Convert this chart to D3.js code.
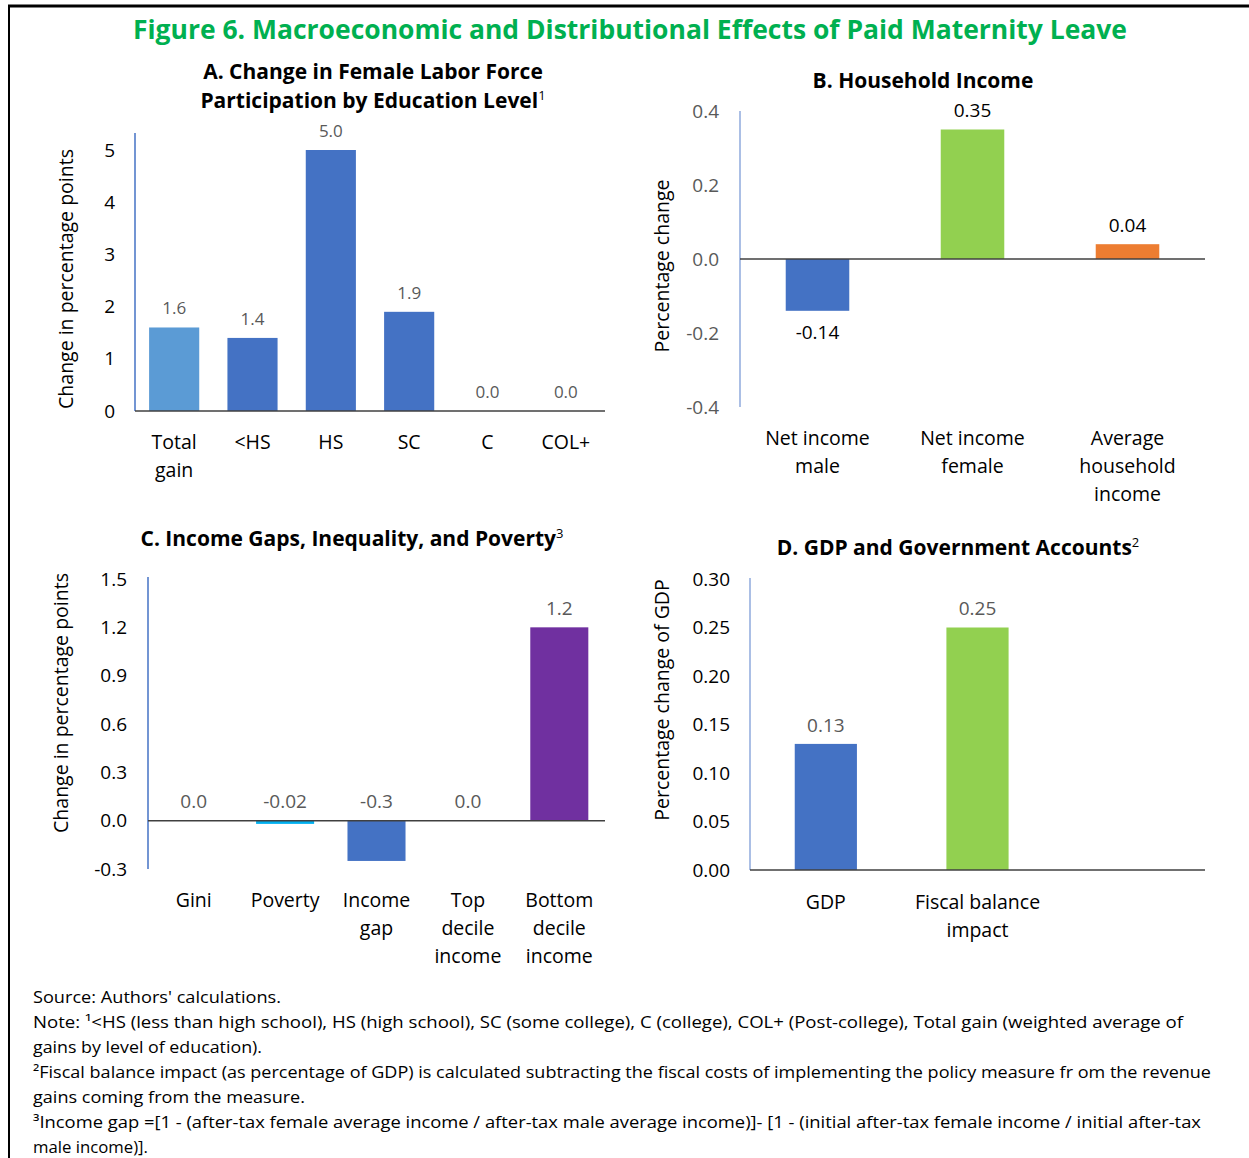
<!DOCTYPE html>
<html>
<head>
<meta charset="utf-8">
<script src="https://cdn.jsdelivr.net/npm/d3@7"></script>
<style>
  body { margin: 0; background: #fff; }
  svg text { font-family: "Open Sans", "Noto Sans", sans-serif; }
</style>
</head>
<body>
<svg width="1249" height="1158"></svg>
<script>
// --- data ---
var titleMain = "Figure 6. Macroeconomic and Distributional Effects of Paid Maternity Leave";

var catsA = ["Total\ngain", "<HS", "HS", "SC", "C", "COL+"];
var valsA = [1.6, 1.4, 5.0, 1.9, 0.0, 0.0];
var labelsA = ["1.6", "1.4", "5.0", "1.9", "0.0", "0.0"];
var colorsA = ["#5B9BD5", "#4472C4", "#4472C4", "#4472C4", "#4472C4", "#4472C4"];
var ticksA = [0, 1, 2, 3, 4, 5];

var catsB = ["Net income\nmale", "Net income\nfemale", "Average\nhousehold\nincome"];
var valsB = [-0.14, 0.35, 0.04];
var labelsB = ["-0.14", "0.35", "0.04"];
var colorsB = ["#4472C4", "#92D050", "#ED7D31"];
var ticksB = [-0.4, -0.2, 0.0, 0.2, 0.4];

var catsC = ["Gini", "Poverty", "Income\ngap", "Top\ndecile\nincome", "Bottom\ndecile\nincome"];
var valsC = [0.0, -0.02, -0.25, 0.0, 1.2];
var labelsC = ["0.0", "-0.02", "-0.3", "0.0", "1.2"];
var colorsC = ["#4472C4", "#00B0F0", "#4472C4", "#4472C4", "#7030A0"];
var ticksC = [-0.3, 0.0, 0.3, 0.6, 0.9, 1.2, 1.5];

var catsD = ["GDP", "Fiscal balance\nimpact", ""];
var valsD = [0.13, 0.25, null];
var labelsD = ["0.13", "0.25", ""];
var colorsD = ["#4472C4", "#92D050", "#fff"];
var ticksD = [0.00, 0.05, 0.10, 0.15, 0.20, 0.25, 0.30];

var notes = [
  "Source: Authors' calculations.",
  "Note: \u00B9<HS (less than high school), HS (high school), SC (some college), C (college), COL+ (Post-college), Total gain (weighted average of",
  "gains by level of education).",
  "\u00B2Fiscal balance impact (as percentage of GDP) is calculated subtracting the fiscal costs of implementing the policy measure fr om the revenue",
  "gains coming from the measure.",
  "\u00B3Income gap =[1 - (after-tax female average income / after-tax male average income)]- [1 - (initial after-tax female income / initial after-tax",
  "male income)]."
];
var noteWidths = [248, 1150, 229, 1178, 272, 1168, 115];

var svg = d3.select("svg");

// frame (top + left rule)
svg.append("line").attr("x1", 8).attr("x2", 1249).attr("y1", 6).attr("y2", 6)
    .attr("stroke", "#000").attr("stroke-width", 3);
svg.append("line").attr("x1", 9).attr("x2", 9).attr("y1", 5).attr("y2", 1158)
    .attr("stroke", "#000").attr("stroke-width", 2);

svg.append("text")
    .attr("x", 630).attr("y", 39)
    .attr("text-anchor", "middle")
    .attr("font-size", 27).attr("font-weight", 700)
    .attr("fill", "#00B050")
    .attr("textLength", 994).attr("lengthAdjust", "spacingAndGlyphs")
    .text(titleMain);

function panelTitle(lines, cx, y0, sup) {
    lines.forEach(function (l, i) {
        var t = svg.append("text")
            .attr("x", cx).attr("y", y0 + i * 29)
            .attr("text-anchor", "middle")
            .attr("font-size", 21).attr("font-weight", 700)
            .attr("fill", "#000")
            .text(l);
        if (sup && i === lines.length - 1) {
            t.append("tspan").attr("dy", -8).attr("font-size", 13)
                .attr("font-weight", 400).text(sup);
        }
    });
}

// Excel style numbers: plain hyphen for negatives
function fmtHyphen(spec) {
    var f = d3.format(spec);
    return function (d) { return f(d).replace("\u2212", "-"); };
}

function drawPanel(p) {
    var g = svg.append("g");

    var x = d3.scaleBand()
        .domain(p.cats)
        .range([p.x0, p.x1])
        .paddingInner(p.pad)
        .paddingOuter(p.pad / 2);

    var y = d3.scaleLinear()
        .domain([p.ticks[0], p.ticks[p.ticks.length - 1]])
        .range([p.yBottom, p.yTop]);

    // y tick labels
    var yAxis = d3.axisLeft(y)
        .tickValues(p.ticks)
        .tickSize(0)
        .tickPadding(p.tickPad)
        .tickFormat(fmtHyphen(p.fmt));

    var ax = g.append("g")
        .attr("transform", "translate(" + p.x0 + ",0)")
        .call(yAxis);
    ax.select(".domain").remove();
    ax.selectAll("text")
        .attr("font-size", 19)
        .attr("font-family", "Open Sans, sans-serif")
        .attr("fill", p.tickColor);

    // vertical axis line
    g.append("line")
        .attr("x1", p.x0).attr("x2", p.x0)
        .attr("y1", p.axisTop).attr("y2", p.yBottom)
        .attr("stroke", p.axisColor).attr("stroke-width", 1.5);

    // bars
    var data = p.cats.map(function (c, i) {
        return { cat: c, v: p.vals[i], label: p.labels[i], color: p.colors[i] };
    });

    g.selectAll("rect.bar")
        .data(data.filter(function (d) { return d.v !== null && d.v !== 0; }))
        .enter().append("rect")
        .attr("class", "bar")
        .attr("x", function (d) { return x(d.cat); })
        .attr("width", x.bandwidth())
        .attr("y", function (d) { return y(Math.max(0, d.v)); })
        .attr("height", function (d) { return Math.abs(y(d.v) - y(0)); })
        .attr("fill", function (d) { return d.color; });

    // zero line
    g.append("line")
        .attr("x1", p.x0).attr("x2", p.x1)
        .attr("y1", y(0)).attr("y2", y(0))
        .attr("stroke", "#404040").attr("stroke-width", 1.5);

    // value labels
    g.selectAll("text.val")
        .data(data.filter(function (d) { return d.v !== null; }))
        .enter().append("text")
        .attr("class", "val")
        .attr("x", function (d) { return x(d.cat) + x.bandwidth() / 2; })
        .attr("y", function (d) {
            if (d.v < 0 && p.negBelow) return y(d.v) + 22;
            return y(Math.max(0, d.v)) - 19;
        })
        .attr("dy", "0.35em")
        .attr("text-anchor", "middle")
        .attr("font-size", p.valSize)
        .attr("fill", p.valColor)
        .text(function (d) { return d.label; });

    // category labels
    data.forEach(function (d) {
        d.cat.split("\n").forEach(function (line, j) {
            g.append("text")
                .attr("x", x(d.cat) + x.bandwidth() / 2)
                .attr("y", p.catY + j * 28)
                .attr("text-anchor", "middle")
                .attr("font-size", 19.5)
                .attr("fill", "#000")
                .text(line);
        });
    });

    // y title
    g.append("text")
        .attr("transform", "translate(" + p.titleX + "," + p.titleY + ") rotate(-90)")
        .attr("text-anchor", "middle")
        .attr("font-size", 19.5)
        .attr("fill", "#000")
        .text(p.yTitle);
}

panelTitle(["A. Change in Female Labor Force", "Participation by Education Level"], 373, 79, "1");
drawPanel({
    cats: catsA, vals: valsA, labels: labelsA, colors: colorsA, ticks: ticksA,
    x0: 135, x1: 605, yTop: 150, yBottom: 411, axisTop: 133, pad: 0.36,
    fmt: "d", tickPad: 20, tickColor: "#000", axisColor: "#4472C4",
    valSize: 17, valColor: "#595959", negBelow: false,
    catY: 449, yTitle: "Change in percentage points", titleX: 73, titleY: 279
});

panelTitle(["B. Household Income"], 923, 88);
drawPanel({
    cats: catsB, vals: valsB, labels: labelsB, colors: colorsB, ticks: ticksB,
    x0: 740, x1: 1205, yTop: 111, yBottom: 407, axisTop: 111, pad: 0.59,
    fmt: ".1f", tickPad: 21, tickColor: "#595959", axisColor: "#8FAADC",
    valSize: 19, valColor: "#000", negBelow: true,
    catY: 445, yTitle: "Percentage change", titleX: 669, titleY: 266
});

panelTitle(["C. Income Gaps, Inequality, and Poverty"], 352, 546, "3");
drawPanel({
    cats: catsC, vals: valsC, labels: labelsC, colors: colorsC, ticks: ticksC,
    x0: 148, x1: 605, yTop: 579, yBottom: 869, axisTop: 577, pad: 0.365,
    fmt: ".1f", tickPad: 21, tickColor: "#000", axisColor: "#4472C4",
    valSize: 19, valColor: "#595959", negBelow: false,
    catY: 907, yTitle: "Change in percentage points", titleX: 68, titleY: 703
});

panelTitle(["D. GDP and Government Accounts"], 958, 555, "2");
drawPanel({
    cats: catsD, vals: valsD, labels: labelsD, colors: colorsD, ticks: ticksD,
    x0: 750, x1: 1205, yTop: 579, yBottom: 870, axisTop: 578, pad: 0.59,
    fmt: ".2f", tickPad: 20, tickColor: "#000", axisColor: "#8FAADC",
    valSize: 19, valColor: "#595959", negBelow: false,
    catY: 909, yTitle: "Percentage change of GDP", titleX: 669, titleY: 700
});

// notes
svg.append("g").selectAll("text")
    .data(notes)
    .enter().append("text")
    .attr("x", 33)
    .attr("y", function (d, i) { return 1003 + i * 25; })
    .attr("font-size", 16.5)
    .attr("fill", "#000")
    .attr("textLength", function (d, i) { return noteWidths[i]; })
    .attr("lengthAdjust", "spacingAndGlyphs")
    .text(function (d) { return d; });
</script>
</body>
</html>
